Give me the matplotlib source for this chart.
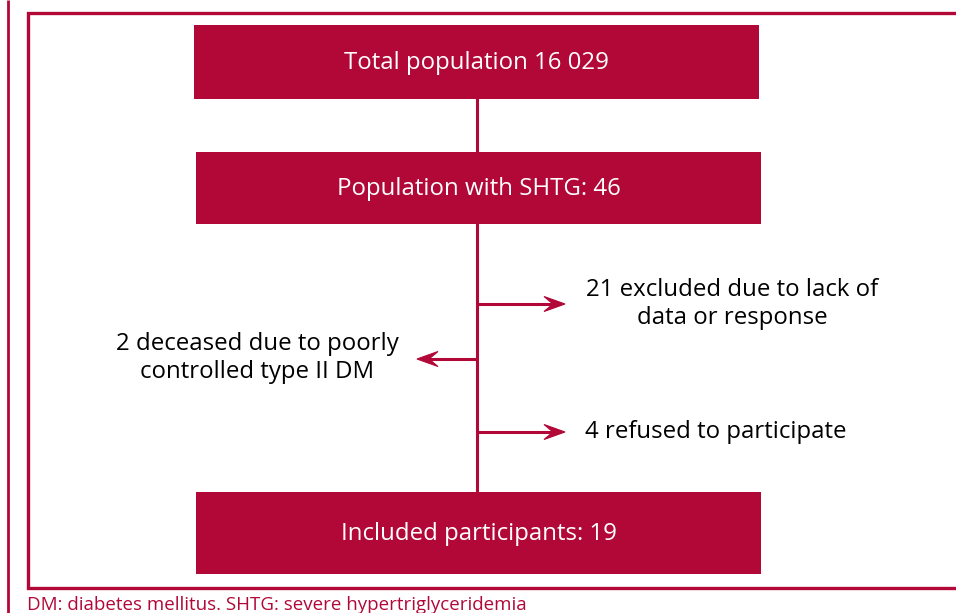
import matplotlib
matplotlib.use("Agg")
import matplotlib.pyplot as plt
from matplotlib.patches import Rectangle, Polygon

plt.rcParams['font.family'] = ['Open Sans', 'DejaVu Sans']

RED = '#B20838'

box_labels = ["Total population 16 029", "Population with SHTG: 46", "Included participants: 19"]
side_labels = ["21 excluded due to lack of\ndata or response",
               "2 deceased due to poorly\ncontrolled type II DM",
               "4 refused to participate"]
side_dirs = ["right", "left", "right"]
footnote = "DM: diabetes mellitus. SHTG: severe hypertriglyceridemia"

# layout (pixels)
boxes = [(194, 25, 565, 74), (196, 152, 565, 72), (196, 492, 565, 82)]
trunk_x = 477
arrow_y = [304, 359, 432]

fig = plt.figure(figsize=(9.56, 6.13), dpi=100)
ax = fig.add_axes([0, 0, 1, 1])
ax.set_xlim(0, 956)
ax.set_ylim(613, 0)
ax.axis('off')

# outer lines
ax.plot([8, 8], [0, 613], color=RED, lw=2.0, solid_capstyle='butt')
ax.plot([960, 28, 28, 960], [13, 13, 588, 588], color=RED, lw=2.4, solid_joinstyle='miter')

# connectors
ax.plot([trunk_x, trunk_x], [99, 152], color=RED, lw=2.2)
ax.plot([trunk_x, trunk_x], [224, 492], color=RED, lw=2.2)

FS = 17.3
for (x, y, w, h), lab in zip(boxes, box_labels):
    ax.add_patch(Rectangle((x, y), w, h, facecolor=RED, edgecolor='none'))
    ax.text(x + w / 2, y + h / 2 + 1, lab, color='white', fontsize=FS,
            ha='center', va='center')

for y, d in zip(arrow_y, side_dirs):
    s = 1 if d == 'right' else -1
    tip = trunk_x + 88 if d == 'right' else trunk_x - 60
    notch = tip - s * 12
    ax.plot([trunk_x, notch], [y, y], color=RED, lw=2.2, solid_capstyle='butt')
    ax.add_patch(Polygon([(tip, y), (tip - s * 21, y - 7.5), (notch, y),
                          (tip - s * 21, y + 7.5)], closed=True,
                         facecolor=RED, edgecolor=RED, lw=0.8))

ax.text(732, 304, side_labels[0], fontsize=FS, ha='center', va='center', linespacing=1.17)
ax.text(257, 358, side_labels[1], fontsize=FS, ha='center', va='center', linespacing=1.17)
ax.text(585, 432, side_labels[2], fontsize=FS, ha='left', va='center')

ax.text(27, 605, footnote, color=RED, fontsize=13.5, ha='left', va='center')

fig.savefig('out.png', dpi=100)
